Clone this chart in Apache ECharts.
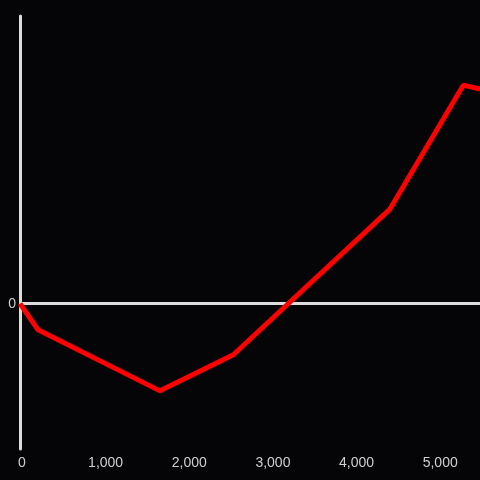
<!DOCTYPE html>
<html>
<head>
<meta charset="utf-8">
<script src="https://cdn.jsdelivr.net/npm/echarts@6/dist/echarts.min.js"></script>
<style>
  html, body { margin: 0; padding: 0; background: #050407; }
  #chart { width: 480px; height: 480px; }
</style>
</head>
<body>
<div id="chart"></div>
<script>
  // 数据
  const xValues = [0, 215, 1674, 2550, 4420, 5300, 5500]
  const yValues = [0, -26, -87, -51, 94, 218, 214]
  const xTicks = [0, 1000, 2000, 3000, 4000, 5000]
  const yTicks = [0]

  const chart = echarts.init(document.getElementById('chart'))

  const option = {
    backgroundColor: '#050407',
    animation: false,
    grid: {
      left: 20,
      right: 0,
      top: 16,
      bottom: 31,
    },
    xAxis: {
      type: 'value',
      min: 0,
      max: 5500,
      axisLine: { show: false },
      axisTick: { show: false },
      splitLine: { show: false },
      axisLabel: {
        customValues: xTicks,
        color: '#cfcfcf',
        fontSize: 14,
        fontFamily: 'Liberation Sans',
        margin: 7,
        padding: [0, 0, 0, 4],
        formatter: (v) => v.toLocaleString('en-US'),
      },
    },
    yAxis: {
      type: 'value',
      min: -145,
      max: 287,
      axisLine: {
        show: true,
        onZero: false,
        lineStyle: { color: '#dcdcdc', width: 3 },
      },
      axisTick: { show: false },
      splitLine: { show: false },
      axisLabel: {
        customValues: yTicks,
        color: '#cfcfcf',
        fontSize: 14,
        fontFamily: 'Liberation Sans',
        margin: 4,
      },
    },
    series: [
      {
        type: 'line',
        data: xValues.map((x, i) => [x, yValues[i]]),
        showSymbol: false,
        lineStyle: { color: '#ff0000', width: 5 },
        z: 3,
        markLine: {
          silent: true,
          symbol: 'none',
          label: { show: false },
          lineStyle: { color: '#dcdcdc', width: 3, type: 'solid' },
          data: [{ yAxis: 0 }],
          z: 2,
        },
      },
    ],
  }

  chart.setOption(option)
</script>
</body>
</html>
